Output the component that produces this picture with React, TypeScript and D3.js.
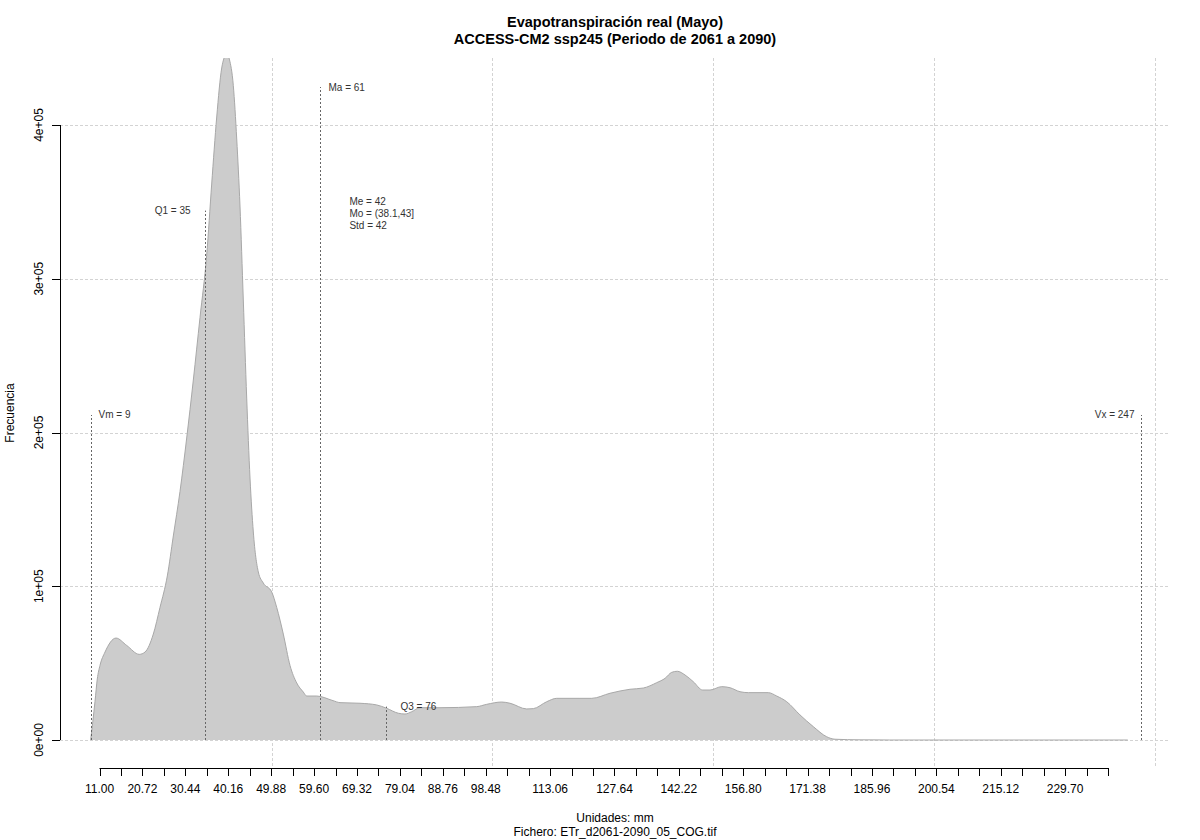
import React from "react";
import * as d3 from "d3";

// ---- data ----
const densX = [9.0, 9.98, 10.5, 11.11, 12.25, 14.74, 17.16, 20.01, 21.31, 23.19, 24.7, 26.36, 27.72, 29.23, 30.75, 32.25, 33.76, 35.28, 36.41, 37.55, 38.68, 39.2, 39.77, 40.4, 41.31, 42.08, 42.82, 43.57, 44.34, 45.09, 45.84, 46.97, 48.1, 50.0, 51.14, 52.63, 54.15, 55.67, 57.16, 57.93, 60.2, 63.89, 65.47, 70.0, 73.79, 76.05, 78.68, 80.2, 81.71, 83.59, 88.12, 96.44, 98.7, 102.1, 103.98, 107.76, 109.26, 112.29, 114.56, 119.83, 122.48, 126.63, 131.16, 134.17, 137.21, 139.09, 140.6, 141.87, 143.61, 145.5, 147.62, 149.28, 151.93, 153.81, 156.07, 157.95, 162.48, 164.38, 166.65, 169.66, 172.67, 175.71, 177.59, 183.25, 190.0, 243.9];
const densY = [0, 25000, 39700, 48500, 57200, 66300, 61500, 55700, 57200, 68900, 86200, 106700, 132700, 161600, 196400, 234100, 274700, 315400, 361600, 405200, 437100, 443500, 447000, 442900, 425600, 390900, 347300, 286200, 222400, 170400, 135300, 109300, 102100, 96300, 86200, 68900, 48500, 37100, 31200, 28600, 28600, 25600, 24300, 23900, 22800, 20600, 17400, 16900, 18400, 21000, 21000, 21700, 23200, 24700, 23900, 20200, 20400, 24900, 27100, 27100, 27100, 30400, 33000, 33800, 37300, 40100, 44000, 44700, 42300, 37900, 32500, 32500, 34700, 34000, 31400, 30800, 30800, 28600, 24900, 16300, 8700, 2100, 500, 100, 0, 0];

const xTickStart = 11.0;
const xTickStep = 4.86;
const xTickCount = 48;
const xTickLabels = [11.0, 20.72, 30.44, 40.16, 49.88, 59.6, 69.32, 79.04, 88.76, 98.48, 113.06, 127.64, 142.22, 156.8, 171.38, 185.96, 200.54, 215.12, 229.7];
const yTicks = [0, 100000, 200000, 300000, 400000];
const yTickLabels = ["0e+00", "1e+05", "2e+05", "3e+05", "4e+05"];
const xGrid = [50, 100, 150, 200, 250];

const statLabels = ["Vm = 9", "Q1 = 35", "Ma = 61", "Q3 = 76", "Vx = 247"];
const statValues = [9, 35, 61, 76, 247];
const statTops = [211400, 344300, 424700, 21700, 211400];
const statSides = ["right", "left", "right", "right", "left"];

const infoLines = ["Me = 42", "Mo = (38.1,43]", "Std = 42"];
const infoPos = [67.6, 350000];

const title1 = "Evapotranspiración real (Mayo)";
const title2 = "ACCESS-CM2 ssp245 (Periodo de 2061 a 2090)";
const xLabel = "Unidades: mm";
const fileLabel = "Fichero: ETr_d2061-2090_05_COG.tif";
const yLabel = "Frecuencia";

// ---- layout ----
const W = 1200, H = 840;
const plot = { left: 60, right: 1170, top: 58, bottom: 768 };
const FONT = "'Liberation Sans', Arial, Helvetica, sans-serif";
const statDx = [7, -15, 8, 14, -7];

export default function App() {
  const xTickEnd = xTickStart + xTickStep * (xTickCount - 1);
  const x = d3.scaleLinear().domain([xTickStart, xTickEnd]).range([99.5, 1108]);
  const y = d3.scaleLinear().domain([0, 400000]).range([740, 125]);
  const ticks = d3.range(xTickCount).map((i) => xTickStart + i * xTickStep);
  const pts = densX.map((v, i) => [v, densY[i]] as [number, number]);
  const area = d3
    .area<[number, number]>()
    .x((d) => x(d[0]))
    .y0(y(0))
    .y1((d) => y(d[1]))
    .curve(d3.curveMonotoneX);
  const line = d3
    .line<[number, number]>()
    .x((d) => x(d[0]))
    .y((d) => y(d[1]))
    .curve(d3.curveMonotoneX);
  const gridColor = "#d3d3d3";
  const axisY = plot.bottom;

  return (
    <svg
      width={W}
      height={H}
      style={{ position: "absolute", left: 0, top: 0, background: "#fff" }}
      fontFamily={FONT}
    >
      <rect x={0} y={0} width={W} height={H} fill="#fff" />
      <defs>
        <clipPath id="plotclip">
          <rect x={plot.left} y={plot.top} width={plot.right - plot.left} height={plot.bottom - plot.top} />
        </clipPath>
      </defs>
      {/* grid */}
      <g stroke={gridColor} strokeWidth={1} strokeDasharray="3,2">
        {yTicks.map((t) => (
          <line key={"hg" + t} x1={plot.left} x2={plot.right} y1={Math.round(y(t)) + 0.5} y2={Math.round(y(t)) + 0.5} />
        ))}
        {xGrid.map((t) => (
          <line key={"vg" + t} x1={Math.round(x(t)) + 0.5} x2={Math.round(x(t)) + 0.5} y1={plot.top} y2={plot.bottom} />
        ))}
      </g>
      {/* density */}
      <g clipPath="url(#plotclip)">
        <path d={area(pts) || ""} fill="#cccccc" stroke="none" />
        <path d={line(pts) || ""} fill="none" stroke="#a8a8a8" strokeWidth={1} />
      </g>
      {/* stat lines */}
      <g>
        {statValues.map((v, i) => {
          const px = Math.round(x(v)) + 0.5;
          const top = y(statTops[i]);
          const left = statSides[i] === "left";
          return (
            <g key={"st" + i}>
              <line x1={px} x2={px} y1={y(0)} y2={top} stroke="#666" strokeWidth={1} strokeDasharray="2,2" />
              <text
                x={px + statDx[i]}
                y={top}
                fontSize={10}
                fill="#333"
                textAnchor={left ? "end" : "start"}
                dominantBaseline="central"
              >
                {statLabels[i]}
              </text>
            </g>
          );
        })}
        {infoLines.map((t, i) => (
          <text
            key={"info" + i}
            x={x(infoPos[0])}
            y={y(infoPos[1]) + i * 11.6}
            fontSize={10}
            fill="#333"
            dominantBaseline="central"
          >
            {t}
          </text>
        ))}
      </g>
      {/* x axis */}
      <g>
        <line x1={x(ticks[0])} x2={x(ticks[ticks.length - 1])} y1={axisY + 0.5} y2={axisY + 0.5} stroke="#000" />
        {ticks.map((t, i) => (
          <line key={"xt" + i} x1={Math.round(x(t)) + 0.5} x2={Math.round(x(t)) + 0.5} y1={axisY} y2={axisY + 8} stroke="#000" />
        ))}
        {xTickLabels.map((t) => (
          <text key={"xl" + t} x={x(t)} y={793} fontSize={12} textAnchor="middle" fill="#000">
            {t.toFixed(2)}
          </text>
        ))}
      </g>
      {/* y axis */}
      <g>
        <line x1={plot.left + 0.5} x2={plot.left + 0.5} y1={y(0)} y2={y(400000)} stroke="#000" />
        {yTicks.map((t, i) => (
          <g key={"yt" + t}>
            <line x1={plot.left - 8} x2={plot.left} y1={Math.round(y(t)) + 0.5} y2={Math.round(y(t)) + 0.5} stroke="#000" />
            <text
              transform={`translate(43,${y(t)}) rotate(-90)`}
              fontSize={12}
              textAnchor="middle"
              fill="#000"
            >
              {yTickLabels[i]}
            </text>
          </g>
        ))}
      </g>
      {/* labels */}
      <text transform={`translate(14,${(plot.top + plot.bottom) / 2}) rotate(-90)`} fontSize={12} textAnchor="middle">
        {yLabel}
      </text>
      <text x={(plot.left + plot.right) / 2} y={822} fontSize={12} textAnchor="middle">
        {xLabel}
      </text>
      <text x={(plot.left + plot.right) / 2} y={836} fontSize={12} textAnchor="middle">
        {fileLabel}
      </text>
      <text x={(plot.left + plot.right) / 2} y={27} fontSize={14.5} fontWeight="bold" textAnchor="middle">
        {title1}
      </text>
      <text x={(plot.left + plot.right) / 2} y={44} fontSize={14.5} fontWeight="bold" textAnchor="middle">
        {title2}
      </text>
    </svg>
  );
}
